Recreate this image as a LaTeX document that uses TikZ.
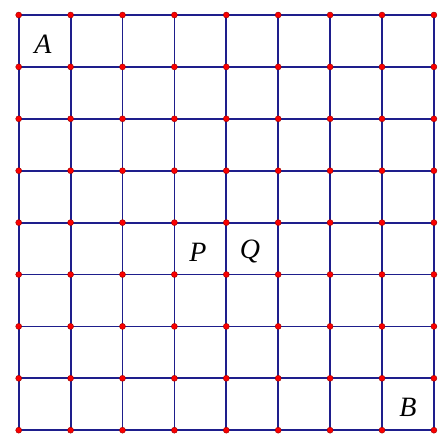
\documentclass[tikz,border=0pt]{standalone}
\usepackage{fontspec}
\setmainfont{Liberation Serif}
\definecolor{gridblue}{RGB}{30,30,140}
\definecolor{dotred}{RGB}{250,0,0}
\definecolor{dotedge}{RGB}{150,0,0}
\begin{document}
\begin{tikzpicture}[x=1pt,y=-1pt,
  gridline/.style={draw=gridblue,line width=1.8pt},
  gdot/.style={circle,fill=dotred,draw=dotedge,line width=0.4pt,inner sep=0pt,minimum size=6pt},
  lbl/.style={font=\fontsize{28}{28}\selectfont\itshape,inner sep=0pt}]
\useasboundingbox (0,0) rectangle (441,433);
\def\xo{18.7}\def\yo{15}\def\st{51.9}
\foreach \i in {0,...,8}{
  \draw[gridline] (\xo+\i*\st,\yo) -- (\xo+\i*\st,\yo+8*\st);
  \draw[gridline] (\xo,\yo+\i*\st) -- (\xo+8*\st,\yo+\i*\st);
}
\foreach \i in {0,...,8}{
  \foreach \j in {0,...,8}{
    \node[gdot] (d\i-\j) at (\xo+\i*\st,\yo+\j*\st) {};
  }
}
\node[lbl] (A) at (43,44) {A};
\node[lbl] (P) at (198,252) {P};
\node[lbl] (Q) at (250,251) {Q};
\node[lbl] (B) at (408,407) {B};
\end{tikzpicture}
\end{document}
